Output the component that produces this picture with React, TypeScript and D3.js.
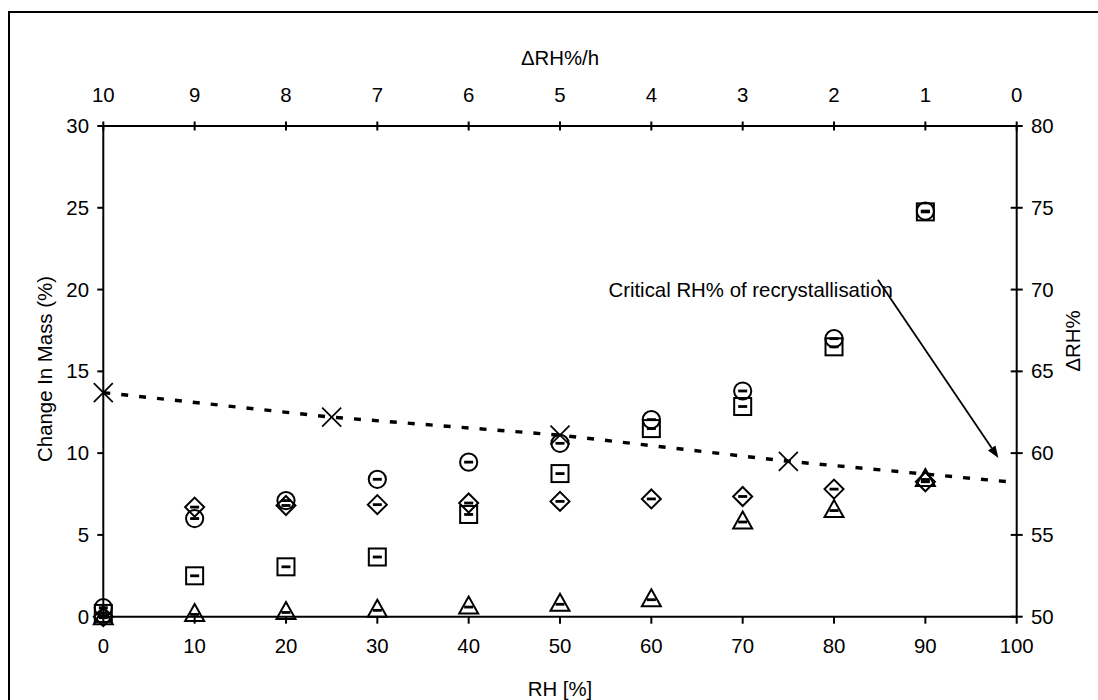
import React from "react";
import * as d3 from "d3";

const rhValues = [0, 10, 20, 30, 40, 50, 60, 70, 80, 90];
const circleSeries = [0.55, 6.0, 7.1, 8.4, 9.45, 10.6, 12.05, 13.8, 17.0, 24.8];
const squareSeries = [0.2, 2.5, 3.05, 3.65, 6.25, 8.75, 11.5, 12.85, 16.5, 24.75];
const diamondSeries = [0.0, 6.7, 6.8, 6.85, 6.95, 7.05, 7.2, 7.35, 7.8, 8.25];
const triangleSeries = [0.0, 0.2, 0.32, 0.45, 0.65, 0.82, 1.1, 5.85, 6.55, 8.45];

const dRhX = [0, 25, 50, 75];
const dRhValues = [63.7, 62.2, 61.1, 59.5];
const dRhLineX = [0, 25, 50, 75, 100];
const dRhLineValues = [63.7, 62.2, 61.1, 59.5, 58.2];

const bottomTicks = [0, 10, 20, 30, 40, 50, 60, 70, 80, 90, 100];
const topTicks = [10, 9, 8, 7, 6, 5, 4, 3, 2, 1, 0];
const leftTicks = [0, 5, 10, 15, 20, 25, 30];
const rightTicks = [50, 55, 60, 65, 70, 75, 80];

const annotationText = "Critical RH% of recrystallisation";
const annotationArrow = { x1: 84.8, y1: 20.6, x2: 98.0, y2: 9.7 };
const annotationTextPos = { x: 55.3, y: 19.55 };

export default function App() {
  const left = 103.3, right = 1016.7, top = 126, bottom = 616.7;
  const x = d3.scaleLinear().domain([0, 100]).range([left, right]);
  const xTop = d3.scaleLinear().domain([10, 0]).range([left, right]);
  const y = d3.scaleLinear().domain([0, 30]).range([bottom, top]);
  const y2 = d3.scaleLinear().domain([50, 80]).range([bottom, top]);
  const font = "'Liberation Sans', Arial, sans-serif";
  const fs = 20.4;
  const sw = 2;

  const line = d3
    .line<number>()
    .x((_, i) => x(dRhLineX[i]))
    .y((d) => y2(d));

  const dash = (cx: number, cy: number, k: string) => (
    <line key={k} x1={cx - 4.5} x2={cx + 4.5} y1={cy} y2={cy} stroke="#000" strokeWidth={2.8} />
  );

  const markers: React.ReactNode[] = [];
  rhValues.forEach((rh, i) => {
    const cx = x(rh);
    {
      const cy = y(triangleSeries[i]);
      const p = `M${cx},${cy - 9.5} L${cx + 9.5},${cy + 7.5} L${cx - 9.5},${cy + 7.5} Z`;
      markers.push(<path key={`t${i}`} d={p} fill="none" stroke="#000" strokeWidth={sw} />);
      markers.push(dash(cx, cy + 1, `td${i}`));
    }
    {
      const cy = y(squareSeries[i]);
      markers.push(
        <rect key={`s${i}`} x={cx - 8.5} y={cy - 8.5} width={17} height={17} fill="none" stroke="#000" strokeWidth={sw} />
      );
      markers.push(dash(cx, cy, `sd${i}`));
    }
    {
      const cy = y(circleSeries[i]);
      markers.push(<ellipse key={`c${i}`} cx={cx} cy={cy} rx={8.6} ry={8.6} fill="none" stroke="#000" strokeWidth={sw} />);
      markers.push(dash(cx, cy, `cd${i}`));
    }
    {
      const cy = y(diamondSeries[i]);
      const p = `M${cx},${cy - 9.5} L${cx + 9.5},${cy} L${cx},${cy + 9.5} L${cx - 9.5},${cy} Z`;
      markers.push(<path key={`d${i}`} d={p} fill="none" stroke="#000" strokeWidth={sw} />);
      markers.push(dash(cx, cy, `dd${i}`));
    }
  });

  const ax = x(annotationArrow.x1), ay = y(annotationArrow.y1);
  const bx = x(annotationArrow.x2), by = y(annotationArrow.y2);
  const ang = Math.atan2(by - ay, bx - ax);
  const ah = 12, aw = 4.5;
  const hx = bx - ah * Math.cos(ang), hy = by - ah * Math.sin(ang);
  const arrowHead = `M${bx},${by} L${hx + aw * Math.sin(ang)},${hy - aw * Math.cos(ang)} L${hx - aw * Math.sin(ang)},${hy + aw * Math.cos(ang)} Z`;

  return (
    <svg width={1098} height={700} style={{ position: "absolute", left: 0, top: 0, background: "#fff" }} fontFamily={font}>
      <rect x={0} y={0} width={1098} height={700} fill="#fff" />
      <rect x={9} y={12} width={1200} height={800} fill="none" stroke="#000" strokeWidth={2} />

      <line x1={left} x2={right} y1={bottom} y2={bottom} stroke="#000" strokeWidth={sw} />
      <line x1={left} x2={right} y1={top} y2={top} stroke="#000" strokeWidth={sw} />
      <line x1={left} x2={left} y1={top} y2={bottom} stroke="#000" strokeWidth={sw} />
      <line x1={right} x2={right} y1={top} y2={bottom} stroke="#000" strokeWidth={sw} />

      {bottomTicks.map((t) => (
        <g key={`b${t}`}>
          <line x1={x(t)} x2={x(t)} y1={bottom} y2={bottom + 7} stroke="#000" strokeWidth={sw} />
          <text x={x(t)} y={653} textAnchor="middle" fontSize={fs}>{t}</text>
        </g>
      ))}
      {topTicks.map((t) => (
        <g key={`tp${t}`}>
          <line x1={xTop(t)} x2={xTop(t)} y1={top - 4.5} y2={top + 4.5} stroke="#000" strokeWidth={sw} />
          <text x={xTop(t)} y={102} textAnchor="middle" fontSize={fs}>{t}</text>
        </g>
      ))}
      {leftTicks.map((t) => (
        <g key={`l${t}`}>
          <line x1={left - 6} x2={left} y1={y(t)} y2={y(t)} stroke="#000" strokeWidth={sw} />
          <text x={89} y={y(t) + 7} textAnchor="end" fontSize={fs}>{t}</text>
        </g>
      ))}
      {rightTicks.map((t) => (
        <g key={`r${t}`}>
          <line x1={right - 6} x2={right + 6} y1={y2(t)} y2={y2(t)} stroke="#000" strokeWidth={sw} />
          <text x={1031} y={y2(t) + 7} textAnchor="start" fontSize={fs}>{t}</text>
        </g>
      ))}

      <text x={560} y={65} textAnchor="middle" fontSize={fs}>ΔRH%/h</text>
      <text x={560} y={696} textAnchor="middle" fontSize={fs}>RH [%]</text>
      <text transform={`translate(52,369) rotate(-90)`} textAnchor="middle" fontSize={fs}>Change In Mass (%)</text>
      <text transform={`translate(1080,341) rotate(-90)`} textAnchor="middle" fontSize={fs}>ΔRH%</text>

      <path d={line(dRhLineValues) || ""} fill="none" stroke="#000" strokeWidth={3.4} strokeDasharray="7,11" />
      {dRhX.map((v, i) => {
        const cx = x(v), cy = y2(dRhValues[i]);
        return (
          <g key={`x${i}`}>
            <line x1={cx - 9.5} x2={cx + 9.5} y1={cy - 9.5} y2={cy + 9.5} stroke="#000" strokeWidth={1.7} />
            <line x1={cx - 9.5} x2={cx + 9.5} y1={cy + 9.5} y2={cy - 9.5} stroke="#000" strokeWidth={1.7} />
          </g>
        );
      })}

      {markers}

      <text x={x(annotationTextPos.x)} y={y(annotationTextPos.y)} fontSize={fs}>{annotationText}</text>
      <line x1={ax} y1={ay} x2={hx} y2={hy} stroke="#000" strokeWidth={1.8} />
      <path d={arrowHead} fill="#000" />
    </svg>
  );
}
